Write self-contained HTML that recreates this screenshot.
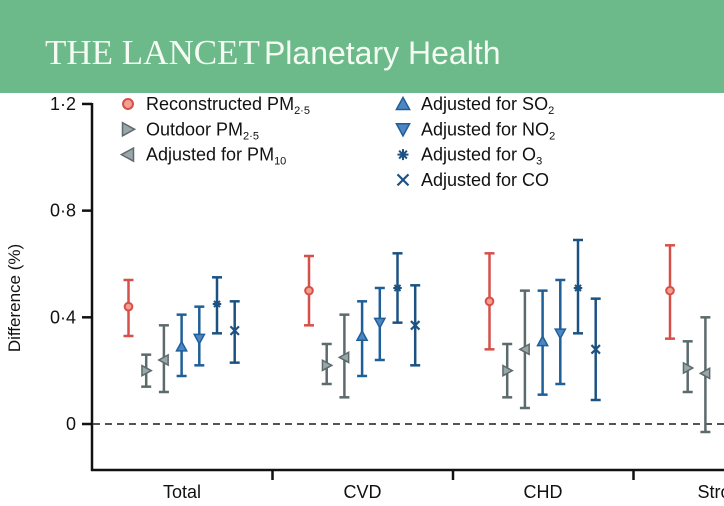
<!DOCTYPE html>
<html><head><meta charset="utf-8"><style>
html,body{margin:0;padding:0;background:#fff;}
body{width:724px;height:501px;overflow:hidden;position:relative;font-family:"Liberation Sans",sans-serif;}
</style></head><body>
<svg width="724" height="501" viewBox="0 0 724 501" xmlns="http://www.w3.org/2000/svg">
<rect x="0" y="0" width="724" height="93" fill="#6cb98a"/>
<text x="45" y="64" font-family="Liberation Serif,serif" font-size="35" fill="#f4fbf2">THE LANCET <tspan font-family="Liberation Sans,sans-serif" font-size="32" dx="-4">Planetary Health</tspan></text>
<g id="axes" font-family="Liberation Sans,sans-serif" fill="#111" font-size="18"></g>
<g id="marks"></g>
<g id="legend" font-size="18" fill="#111"></g>
</svg>
<script>
const categories=["Total","CVD","CHD","Stroke"];
const seriesNames=["Reconstructed PM2.5","Outdoor PM2.5","Adjusted for PM10","Adjusted for SO2","Adjusted for NO2","Adjusted for O3","Adjusted for CO"];
const est=[[0.44,0.20,0.24,0.29,0.32,0.45,0.35],[0.50,0.22,0.25,0.33,0.38,0.51,0.37],[0.46,0.20,0.28,0.31,0.34,0.51,0.28],[0.50,0.21,0.19,null,null,null,null]];
const lo=[[0.33,0.14,0.12,0.18,0.22,0.34,0.23],[0.37,0.15,0.10,0.18,0.24,0.38,0.22],[0.28,0.10,0.06,0.11,0.15,0.34,0.09],[0.32,0.12,-0.03,null,null,null,null]];
const hi=[[0.54,0.26,0.37,0.41,0.44,0.55,0.46],[0.63,0.30,0.41,0.46,0.51,0.64,0.52],[0.64,0.30,0.50,0.50,0.54,0.69,0.47],[0.67,0.31,0.40,null,null,null,null]];
const yTicks=[0,0.4,0.8,1.2];
const yTickLabels=["0","0·4","0·8","1·2"];
const NS="http://www.w3.org/2000/svg";
const y=v=>424-v*266.7;
const groupX=i=>92+i*180.5;
const px=(g,s)=>groupX(g)+36.5+s*17.7;
const colors=["#d6504a","#5c6a6c","#5c6a6c","#1f5f98","#1f5f98","#1c5282","#1c5282"];
const fills=["#f3a090","#9aa7aa","#9aa7aa","#4d86c4","#4d86c4","#1c5282","#1c5282"];
function mk(tag,attrs,parent){const e=document.createElementNS(NS,tag);for(const k in attrs)e.setAttribute(k,attrs[k]);parent.appendChild(e);return e;}
const axes=document.getElementById('axes'),marks=document.getElementById('marks'),legend=document.getElementById('legend');
let e;
e=mk('line',{x1:92,y1:103,x2:92,y2:471,stroke:'#111','stroke-width':2.5},axes);

e=mk('line',{x1:91,y1:470,x2:724,y2:470,stroke:'#111','stroke-width':2.5},axes);

e=mk('line',{x1:93,y1:y(0),x2:724,y2:y(0),stroke:'#555','stroke-width':2,'stroke-dasharray':'7,5'},axes);

yTicks.forEach((t,i)=>{
 e=mk('line',{x1:82,y1:y(t),x2:92,y2:y(t),stroke:'#111','stroke-width':2.5},axes);
 
 e=mk('text',{x:76,y:y(t)+6,'text-anchor':'end'},axes);e.textContent=yTickLabels[i];
 
});
e=mk('text',{x:0,y:0,transform:'translate(20,298) rotate(-90)','text-anchor':'middle','font-size':'17'},axes);e.textContent='Difference (%)';

categories.forEach((c,i)=>{
 if(i>0){e=mk('line',{x1:groupX(i),y1:470,x2:groupX(i),y2:480,stroke:'#111','stroke-width':2.5},axes);
 }
 e=mk('text',{x:groupX(i)+90,y:498,'text-anchor':'middle'},axes);e.textContent=c;
 
});
function marker(s,cx,cy,parent,sz){
 const c=colors[s],f=fills[s];const k=sz||1;let m;
 if(s===0)m=mk('circle',{cx:cx,cy:cy,r:4.5*k,fill:f,stroke:c,'stroke-width':2},parent);
 else if(s===1)m=mk('polygon',{points:`${cx-5*k},${cy-6*k} ${cx+6*k},${cy} ${cx-5*k},${cy+6*k}`,fill:f,stroke:c,'stroke-width':1.5},parent);
 else if(s===2)m=mk('polygon',{points:`${cx+5*k},${cy-6*k} ${cx-6*k},${cy} ${cx+5*k},${cy+6*k}`,fill:f,stroke:c,'stroke-width':1.5},parent);
 else if(s===3)m=mk('polygon',{points:`${cx-6*k},${cy+5*k} ${cx},${cy-6*k} ${cx+6*k},${cy+5*k}`,fill:f,stroke:c,'stroke-width':1.5},parent);
 else if(s===4)m=mk('polygon',{points:`${cx-6*k},${cy-5*k} ${cx},${cy+6*k} ${cx+6*k},${cy-5*k}`,fill:f,stroke:c,'stroke-width':1.5},parent);
 else if(s===5){m=mk('g',{},parent);for(let a=0;a<4;a++){const an=a*Math.PI/4;mk('line',{x1:cx-5*k*Math.cos(an),y1:cy-5*k*Math.sin(an),x2:cx+5*k*Math.cos(an),y2:cy+5*k*Math.sin(an),stroke:c,'stroke-width':2},m);}mk('circle',{cx:cx,cy:cy,r:2.5*k,fill:c},m);}
 else {m=mk('g',{},parent);mk('line',{x1:cx-5*k,y1:cy-5*k,x2:cx+5*k,y2:cy+5*k,stroke:c,'stroke-width':2.2},m);mk('line',{x1:cx-5*k,y1:cy+5*k,x2:cx+5*k,y2:cy-5*k,stroke:c,'stroke-width':2.2},m);}
 return m;
}
categories.forEach((c,g)=>{
 seriesNames.forEach((n,s)=>{
  if(est[g][s]===null)return;
  const x=px(g,s),col=colors[s];
  const grp=mk('g',{},marks);
  
  
  mk('line',{x1:x,y1:y(hi[g][s]),x2:x,y2:y(lo[g][s]),stroke:col,'stroke-width':2.5},grp);
  mk('line',{x1:x-5,y1:y(hi[g][s]),x2:x+5,y2:y(hi[g][s]),stroke:col,'stroke-width':2.5},grp);
  mk('line',{x1:x-5,y1:y(lo[g][s]),x2:x+5,y2:y(lo[g][s]),stroke:col,'stroke-width':2.5},grp);
  marker(s,x,y(est[g][s]),grp,0.85);
 });
});
const legLabels=[['Reconstructed PM','2·5'],['Outdoor PM','2·5'],['Adjusted for PM','10'],['Adjusted for SO','2'],['Adjusted for NO','2'],['Adjusted for O','3'],['Adjusted for CO','']];
legLabels.forEach((l,s)=>{
 const col=s<3?0:1,row=s<3?s:s-3;
 const mx=col?403:128,tx=col?421:146,ty=104+row*25.3;
 const g=mk('g',{},legend);
 
 
 marker(s,mx,ty,g,1.1);
 const t=mk('text',{x:tx,y:ty+6},g);
 t.textContent=l[0];
 if(l[1]){const sp=mk('tspan',{'font-size':'11',dy:'4'},t);sp.textContent=l[1];}
});
</script>
</body></html>
